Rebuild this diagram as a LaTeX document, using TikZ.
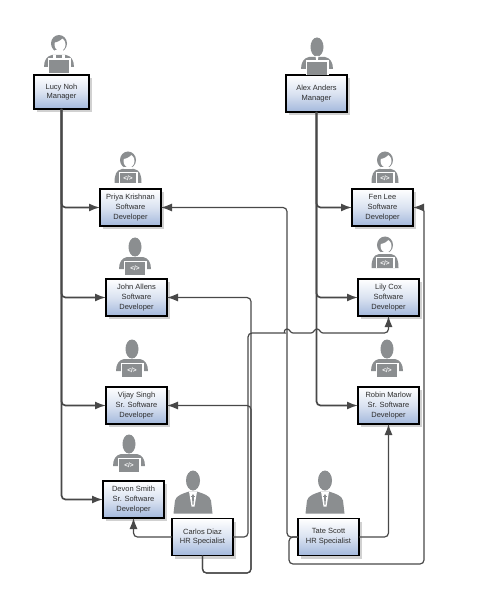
\documentclass[tikz,border=0pt]{standalone}
\usepackage{fontspec}
\setmainfont{Liberation Sans}
\usepackage{xcolor}
\usetikzlibrary{arrows.meta,positioning,calc,shadows}
\definecolor{icongray}{HTML}{8B8E90}
\definecolor{linegray}{HTML}{484848}
\definecolor{boxblue}{HTML}{A3B8DC}
\definecolor{labelgray}{HTML}{2E2E2E}

\begin{document}
\begin{tikzpicture}[
    x=1pt, y=-1pt,
    >={Latex[length=11pt,width=8pt]},
    emp/.style={draw=black, line width=1.3pt, inner sep=0pt, outer sep=0pt,
                minimum width=61pt, minimum height=37pt, align=center,
                top color=white, bottom color=boxblue, middle color=white!60!boxblue,
                font=\fontsize{7.5}{9.8}\selectfont, text=labelgray,
                drop shadow={shadow xshift=3pt, shadow yshift=-3pt, fill=black!30, opacity=.6}},
    link/.style={draw=linegray, line width=1.2pt, rounded corners=4pt, ->},
    trunk/.style={link, line width=1.7pt},
    codetag/.style={inner sep=0pt, text=white, font=\fontsize{6.5}{6.5}\bfseries\selectfont},
    pics/shoulders/.style={code={
        \fill[icongray] (-#1,-6) .. controls (-#1,-13) and (-#1+3,-17) .. (-#1+8,-18) -- (#1-8,-18)
            .. controls (#1-3,-17) and (#1,-13) .. (#1,-6) -- cycle;
    }},
    pics/laptop/.style={code={
        \fill[white] (-#1-1.5,-14.5) rectangle (#1+1.5,0);
        \fill[icongray] (-#1,-13) rectangle (#1,0);
    }},
    pics/malehead/.style={code={
        \fill[icongray] (0,-28) ellipse (6.5 and 9.5);
    }},
    pics/femalehead/.style={code={
        \fill[icongray] (0,#1) ellipse (8 and 8.5);
        \fill[white] (1,#1+1) ellipse (5.5 and 6.5);
        \fill[icongray] (-5.5,#1-1) .. controls (-2,#1-1) and (2,#1-3) .. (4,#1-6) -- (-2,#1-7) -- cycle;
        \fill[white] (-4,#1+7) rectangle (4,#1+9);
    }},
    pics/devm/.style={code={
        \pic {shoulders=16};
        \pic {malehead};
        \pic {laptop=10};
        \node[codetag] (code) at (0,-6.5) {</>};
    }},
    pics/devf/.style={code={
        \fill[icongray] (-13.5,0) .. controls (-13.5,-8) and (-12,-13) .. (-6,-14) -- (6,-14)
            .. controls (12,-13) and (13.5,-8) .. (13.5,0) -- cycle;
        \pic {femalehead=-23};
        \fill[white] (-9.5,-11) rectangle (9.5,0);
        \fill[icongray] (-8,-10) rectangle (8,0);
        \node[codetag] (code) at (0,-5) {</>};
    }},
    pics/mgrm/.style={code={
        \pic {shoulders=16};
        \pic {malehead};
        \pic {laptop=10};
        \fill[white] (-1.5,-19) -- (1.5,-19) -- (.7,-14) -- (-.7,-14) -- cycle;
    }},
    pics/mgrf/.style={code={
        \pic {shoulders=15};
        \pic {femalehead=-29.5};
        \pic {laptop=10};
        \fill[white] (-6,-17.5) -- (-3,-17.5) -- (-3,-14) -- (-6,-14) -- cycle;
        \fill[white] (6,-17.5) -- (3,-17.5) -- (3,-14) -- (6,-14) -- cycle;
    }},
    pics/suit/.style={code={
        \fill[icongray] (0,-33) ellipse (7 and 10);
        \fill[icongray] (-19.5,0) -- (-18,-13) .. controls (-17,-18) and (-10,-20) .. (-4,-22) -- (4,-22)
            .. controls (10,-20) and (17,-18) .. (18,-13) -- (19.5,0) -- cycle;
        \fill[white] (-4,-22) -- (4,-22) -- (1.5,-7) -- (-1.5,-7) -- cycle;
        \fill[icongray] (-1,-19) -- (1,-19) -- (.6,-9) -- (-.6,-9) -- cycle;
        \fill[icongray] (-2,-17.5) rectangle (2,-16.5);
    }},
    ]
\useasboundingbox (0,0) rectangle (486,601);

% left team
\node[emp, minimum width=55pt, minimum height=34pt] (lucy) at (61.5,92) {Lucy Noh\\Manager};
\node[emp, below=80pt of lucy, xshift=69pt] (priya) {Priya Krishnan\\Software\\Developer};
\node[emp, below=53pt of priya, xshift=6pt] (john) {John Allens\\Software\\Developer};
\node[emp, below=71pt of john] (vijay) {Vijay Singh\\Sr. Software\\Developer};
\node[emp, below=57pt of vijay, xshift=-3pt] (devon) {Devon Smith\\Sr. Software\\Developer};
\node[emp, right=8pt of devon, yshift=-37.5pt] (carlos) {Carlos Diaz\\HR Specialist};

% right team
\node[emp] (alex) at (316.5,93.5) {Alex Anders\\Manager};
\node[emp, below=77pt of alex, xshift=66pt] (fen) {Fen Lee\\Software\\Developer};
\node[emp, below=53pt of fen, xshift=6pt] (lily) {Lily Cox\\Software\\Developer};
\node[emp, below=71pt of lily] (robin) {Robin Marlow\\Sr. Software\\Developer};
\node[emp, below=94.5pt of robin, xshift=-60pt] (tate) {Tate Scott\\HR Specialist};

% icons
\pic (lucyicon) at ($(lucy.north)+(-2.5,-2)$) {mgrf};
\pic (alexicon) at ($(alex.north)+(.5,0)$) {mgrm};
\pic (priyaicon) at ($(priya.north)+(-2.5,-6)$) {devf};
\pic (johnicon) at ($(john.north)+(-1.5,-4)$) {devm};
\pic (vijayicon) at ($(vijay.north)+(-4.5,-10)$) {devm};
\pic (devonicon) at ($(devon.north)+(-4.5,-9)$) {devm};
\pic (fenicon) at ($(fen.north)+(2.5,-6)$) {devf};
\pic (lilyicon) at ($(lily.north)+(-3.5,-11)$) {devf};
\pic (robinicon) at ($(robin.north)+(-1.5,-10)$) {devm};
\pic (carlosicon) at ($(carlos.north)+(-9.5,-5)$) {suit};
\pic (tateicon) at ($(tate.north)+(-3.5,-5)$) {suit};

\coordinate (railb) at (251,573);
\coordinate (raila) at (248,333);
\coordinate (railc) at (424,564);
\coordinate (hopa) at (287,333);
\coordinate (hopb) at (317,333);

% reporting lines
\draw[trunk] (lucy.south) |- (priya.west);
\draw[trunk] (lucy.south) |- (john.west);
\draw[trunk] (lucy.south) |- (vijay.west);
\draw[trunk] (lucy.south) |- (devon.west);
\draw[trunk] (alex.south) |- (fen.west);
\draw[trunk] (alex.south) |- (lily.west);
\draw[trunk] (alex.south) |- (robin.west);

% hr lines
\draw[link] (carlos.west) -| (devon.south);
\draw[link] (carlos.south) |- (railb) |- (john.east);
\draw[link] (carlos.south) |- (railb) |- (vijay.east);
\draw[link] (carlos.east) -| (raila) -- ($(hopa)+(-6,0)$) [sharp corners]
    .. controls ($(hopa)+(-3,0)$) and ($(hopa)+(-3,-4)$) .. ($(hopa)+(0,-4)$)
    .. controls ($(hopa)+(3,-4)$) and ($(hopa)+(3,0)$) .. ($(hopa)+(6,0)$)
    -- ($(hopb)+(-6,0)$)
    .. controls ($(hopb)+(-3,0)$) and ($(hopb)+(-3,-4)$) .. ($(hopb)+(0,-4)$)
    .. controls ($(hopb)+(3,-4)$) and ($(hopb)+(3,0)$) .. ($(hopb)+(6,0)$)
    [rounded corners=4pt] -| (lily.south);
\draw[link] (tate.east) -| (robin.south);
\draw[link] (tate.west) -- ++(-11,0) |- (priya.east);
\draw[link] (tate.west) -- ++(-9,0) |- (railc) |- (fen.east);
\end{tikzpicture}
\end{document}
